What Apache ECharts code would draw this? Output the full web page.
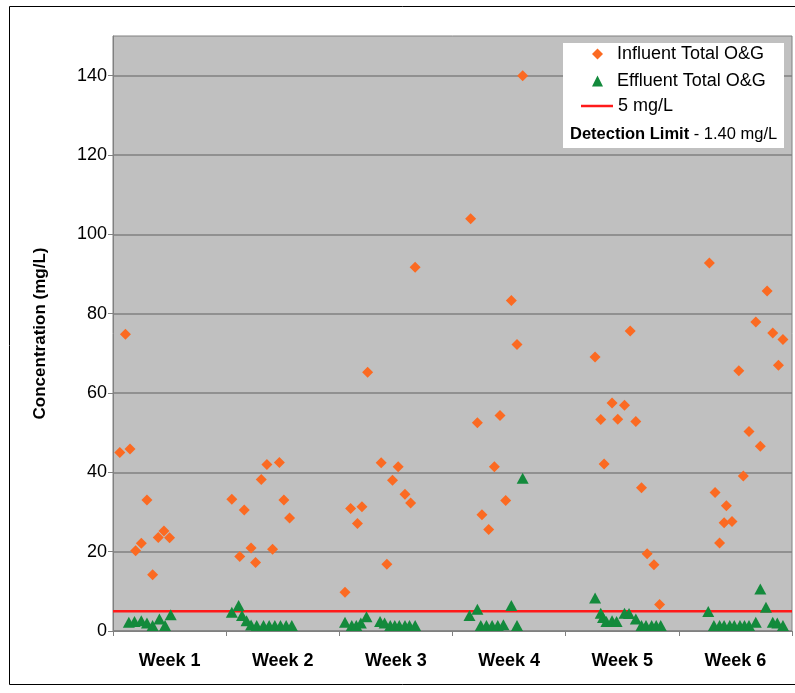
<!DOCTYPE html>
<html>
<head>
<meta charset="utf-8">
<script src="https://cdn.jsdelivr.net/npm/echarts@6/dist/echarts.min.js"></script>
<style>
    html, body {
        margin: 0;
        padding: 0;
        background: #fff;
    }

    #chart {
        width: 795px;
        height: 693px;
    }
</style>
</head>
<body>
<div id="chart"></div>
<script>
// week labels shown under the x axis
const weeks = ['Week 1', 'Week 2', 'Week 3', 'Week 4', 'Week 5', 'Week 6']

// y axis tick labels
const yTicks = [0, 20, 40, 60, 80, 100, 120, 140]

// influent samples: position in weeks (0 = start of week 1) and concentration (mg/L)
const influentDay = [
    0.06, 0.11, 0.15, 0.20, 0.25, 0.30, 0.35, 0.40, 0.45, 0.50,
    1.05, 1.12, 1.16, 1.22, 1.26, 1.31, 1.36, 1.41, 1.47, 1.51, 1.56,
    2.05, 2.10, 2.16, 2.20, 2.25, 2.37, 2.42, 2.47, 2.52, 2.58, 2.63, 2.67,
    3.16, 3.22, 3.26, 3.32, 3.37, 3.42, 3.47, 3.52, 3.57, 3.62,
    4.26, 4.31, 4.34, 4.41, 4.46, 4.52, 4.57, 4.62, 4.67, 4.72, 4.78, 4.83,
    5.27, 5.32, 5.36, 5.40, 5.42, 5.47, 5.53, 5.57, 5.62, 5.68, 5.72, 5.78, 5.83, 5.88, 5.92
]
const influentValue = [
    45.0, 74.8, 45.9, 20.2, 22.1, 33.0, 14.2, 23.6, 25.2, 23.5,
    33.2, 18.8, 30.5, 20.9, 17.3, 38.2, 42.0, 20.6, 42.5, 33.0, 28.5,
    9.8, 30.9, 27.1, 31.3, 65.2, 42.4, 16.8, 38.0, 41.4, 34.5, 32.3, 91.7,
    103.9, 52.5, 29.3, 25.6, 41.4, 54.3, 32.9, 83.3, 72.2, 140.0,
    69.1, 53.3, 42.1, 57.5, 53.4, 56.9, 75.6, 52.8, 36.1, 19.5, 16.7, 6.7,
    92.8, 34.9, 22.2, 27.3, 31.6, 27.6, 65.6, 39.1, 50.3, 77.9, 46.6, 85.7, 75.1, 67.0, 73.5
]

// effluent samples
const effluentDay = [
    0.14, 0.19, 0.25, 0.30, 0.35, 0.41, 0.46, 0.51,
    1.05, 1.11, 1.14, 1.18, 1.22, 1.27, 1.33, 1.38, 1.43, 1.48, 1.53, 1.58,
    2.05, 2.11, 2.15, 2.19, 2.24, 2.36, 2.40, 2.45, 2.49, 2.53, 2.58, 2.62, 2.67,
    3.15, 3.22, 3.25, 3.30, 3.35, 3.40, 3.45, 3.52, 3.57, 3.62,
    4.26, 4.31, 4.33, 4.36, 4.41, 4.45, 4.52, 4.56, 4.62, 4.67, 4.71, 4.76, 4.80, 4.84,
    5.26, 5.31, 5.36, 5.40, 5.45, 5.49, 5.54, 5.58, 5.62, 5.68, 5.72, 5.77, 5.83, 5.87, 5.92
]
const effluentValue = [
    2.2, 2.4, 2.6, 2.0, 1.4, 3.0, 1.4, 4.1,
    4.7, 6.4, 3.9, 2.6, 1.5, 1.4, 1.4, 1.4, 1.4, 1.4, 1.4, 1.4,
    2.2, 1.4, 1.4, 2.0, 3.6, 2.4, 2.0, 1.4, 1.4, 1.4, 1.4, 1.4, 1.4,
    3.9, 5.5, 1.4, 1.4, 1.4, 1.4, 1.6, 6.4, 1.4, 38.5,
    8.3, 4.5, 3.4, 2.4, 2.6, 2.4, 4.5, 4.4, 3.0, 1.4, 1.4, 1.4, 1.4, 1.4,
    4.9, 1.4, 1.4, 1.4, 1.4, 1.4, 1.4, 1.4, 1.4, 2.2, 10.6, 6.0, 2.2, 2.0, 1.4
]

// 5 mg/L limit line, from start to end of the period
const limitDay = [0, 6]
const limitValue = [5, 5]

const font = 'Liberation Sans, Arial, sans-serif'
const gray = '#808080'
const orange = '#fb6a22'
const green = '#138a3c'
const red = '#ff1a1a'

const zip = (xs, ys) => xs.map((x, i) => [x, ys[i]])

const chart = echarts.init(document.getElementById('chart'))

const legendText = { fontSize: 18, color: '#000', fontFamily: font }

const option = {
    animation: false,
    textStyle: { fontFamily: font },
    grid: {
        left: 113,
        top: 36,
        right: 3,
        bottom: 62,
        show: true,
        backgroundColor: '#c0c0c0',
        borderColor: gray,
        borderWidth: 1
    },
    graphic: [
        {
            type: 'rect',
            z: 0,
            silent: true,
            shape: { x: 9.5, y: 6.5, width: 800, height: 678 },
            style: { fill: null, stroke: '#000', lineWidth: 1 }
        },
        {
            type: 'rect',
            z: 3,
            silent: true,
            shape: { x: 563, y: 43, width: 221, height: 105 },
            style: { fill: '#fff' }
        },
        {
            type: 'text',
            z: 5,
            silent: true,
            style: {
                x: 570,
                y: 134,
                verticalAlign: 'middle',
                text: '{b|Detection Limit} - 1.40 mg/L',
                font: '16.5px ' + font,
                fill: '#000',
                rich: {
                    b: { fontWeight: 'bold', fontSize: 16.5, fontFamily: font, fill: '#000' }
                }
            }
        }
    ],
    legend: [
        {
            left: 592,
            top: 45,
            orient: 'vertical',
            itemWidth: 11,
            itemHeight: 11,
            itemGap: 9,
            padding: 0,
            z: 6,
            textStyle: Object.assign({ padding: [0, 0, 0, 9] }, legendText),
            data: [
                { name: 'Influent Total O&G', icon: 'diamond' },
                { name: 'Effluent Total O&G', icon: 'triangle' }
            ]
        },
        {
            left: 581,
            top: 97,
            itemWidth: 32,
            itemHeight: 2.5,
            padding: 0,
            z: 6,
            textStyle: legendText,
            data: [{ name: '5 mg/L', icon: 'rect' }]
        }
    ],
    xAxis: [
        {
            type: 'value',
            min: 0,
            max: 6,
            interval: 1,
            axisLine: { show: true, onZero: false, lineStyle: { color: gray, width: 1 } },
            axisTick: { show: true, length: 5, lineStyle: { color: gray } },
            axisLabel: { show: false },
            splitLine: { show: false }
        },
        {
            type: 'category',
            position: 'bottom',
            data: weeks,
            axisLine: { show: false },
            axisTick: { show: false },
            splitLine: { show: false },
            axisLabel: {
                margin: 21,
                fontSize: 18,
                fontWeight: 'bold',
                color: '#000',
                fontFamily: font
            }
        }
    ],
    yAxis: {
        type: 'value',
        min: 0,
        max: 150,
        interval: 10,
        name: 'Concentration (mg/L)',
        nameLocation: 'middle',
        nameRotate: 90,
        nameGap: 64,
        nameTextStyle: { fontSize: 17, fontWeight: 'bold', color: '#000', fontFamily: font },
        axisLine: { show: true, lineStyle: { color: gray } },
        axisTick: { show: true, length: 5, customValues: yTicks, lineStyle: { color: gray } },
        axisLabel: {
            margin: 6,
            fontSize: 18,
            color: '#000',
            fontFamily: font,
            customValues: yTicks
        },
        splitLine: {
            show: true,
            lineStyle: {
                color: gray,
                width: 1.5,
                // only draw the 20-step lines
                opacity: 1
            }
        }
    },
    series: [
        {
            name: '5 mg/L',
            type: 'line',
            xAxisIndex: 0,
            data: zip(limitDay, limitValue),
            symbol: 'none',
            z: 1,
            lineStyle: { color: red, width: 2.5 },
            itemStyle: { color: red }
        },
        {
            name: 'Influent Total O&G',
            type: 'scatter',
            xAxisIndex: 0,
            data: zip(influentDay, influentValue),
            symbol: 'diamond',
            symbolSize: 11,
            itemStyle: { color: orange, opacity: 1 }
        },
        {
            name: 'Effluent Total O&G',
            type: 'scatter',
            xAxisIndex: 0,
            data: zip(effluentDay, effluentValue),
            symbol: 'triangle',
            symbolSize: [12, 11],
            itemStyle: { color: green, opacity: 1 }
        }
    ]
}

chart.setOption(option)
</script>
</body>
</html>
